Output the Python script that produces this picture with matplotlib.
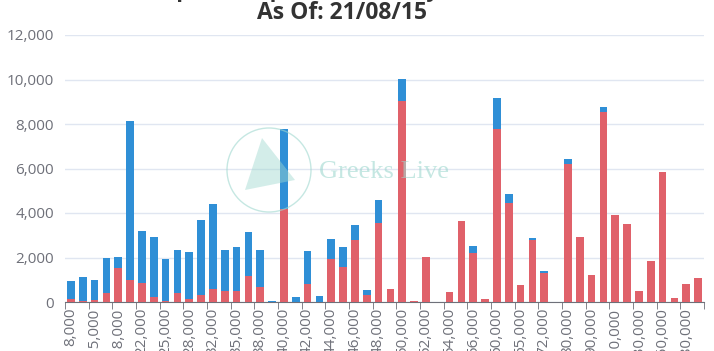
import numpy as np
import matplotlib
matplotlib.use("Agg")
import matplotlib.pyplot as plt
from matplotlib.patches import Ellipse, Polygon

# Strike prices (categories)
strikes = [8000, 10000, 15000, 16000, 18000, 20000, 22000, 24000, 25000, 26000,
           28000, 30000, 32000, 34000, 35000, 36000, 38000, 39000, 40000, 41000,
           42000, 43000, 44000, 45000, 46000, 47000, 48000, 49000, 50000, 51000,
           52000, 53000, 54000, 55000, 56000, 58000, 60000, 64000, 65000, 70000,
           72000, 75000, 80000, 85000, 90000, 100000, 110000, 120000, 130000, 140000,
           150000, 160000, 180000, 200000]

# Calls (red, bottom) and puts (blue, stacked on top)
calls = [150, 30, 90, 390, 1510, 990, 840, 210, 30, 390,
         120, 315, 600, 510, 495, 1170, 690, 0, 4195, 0,
         795, 0, 1950, 1590, 2770, 330, 3535, 570, 9050, 60,
         2005, 0, 435, 3625, 2185, 135, 7760, 4465, 765, 2770,
         1290, 15, 6185, 2935, 1200, 8525, 3895, 3490, 495, 1860,
         5860, 180, 810, 1080]
puts = [800, 1110, 885, 1590, 510, 7160, 2350, 2725, 1890, 1950,
        2110, 3370, 3820, 1830, 1990, 1980, 1650, 60, 3580, 210,
        1500, 285, 880, 880, 700, 210, 1030, 0, 970, 0,
        0, 0, 0, 0, 330, 0, 1410, 390, 0, 120,
        105, 0, 255, 0, 0, 255, 0, 0, 0, 0,
        0, 0, 0, 0]

title_top = "BTC Options Open Interest By Strike Price"
title_date = "As Of: 21/08/15"

red = "#E0616A"
blue = "#2F8FD6"
grey = "#6E7079"

fig = plt.figure(figsize=(7.14, 3.51), dpi=100)
ax = fig.add_axes([65 / 714, 1 - 302 / 351, 639 / 714, 267 / 351])

x = np.arange(len(strikes))
ax.bar(x, calls, width=0.65, color=red, zorder=3)
ax.bar(x, puts, width=0.65, bottom=calls, color=blue, zorder=3)

ax.set_xlim(-0.5, len(strikes) - 0.5)
ax.set_ylim(0, 12000)
ax.set_yticks(range(0, 12001, 2000))
ax.set_yticklabels([f"{v:,}" for v in range(0, 12001, 2000)],
                   fontsize=11, color=grey, family="Open Sans")
ax.tick_params(axis="y", length=0, pad=8)
ax.yaxis.grid(True, color="#E0E6F1", linewidth=1, zorder=0)

ax.set_xticks(x[::2])
ax.set_xticklabels([f"{s:,}" for s in strikes[::2]], rotation=90,
                   fontsize=11, color=grey, family="Open Sans")
ax.set_xticks(np.arange(-0.5, len(strikes), 2), minor=True)
ax.tick_params(axis="x", which="major", length=0, pad=4)
ax.tick_params(axis="x", which="minor", length=5, color=grey)

for s in ["top", "right", "left"]:
    ax.spines[s].set_visible(False)
ax.spines["bottom"].set_color(grey)

# titles (top line is cut off in the original)
fig.text(342 / 714, 1 + 3 / 351, title_top, ha="center", va="baseline",
         fontsize=16, fontweight="bold", color="#333333", family="Open Sans")
fig.text(342 / 714, 1 - 19 / 351, title_date, ha="center", va="baseline",
         fontsize=16.5, fontweight="bold", color="#333333", family="Open Sans")

# watermark
wm = "#9FD8CF"
fig.patches.append(Ellipse((269 / 714, 1 - 170 / 351), 84 / 714, 84 / 351,
                           transform=fig.transFigure, fill=False, edgecolor=wm,
                           linewidth=1, alpha=0.6, zorder=5))
fig.patches.append(Polygon([(245 / 714, 1 - 190 / 351), (262 / 714, 1 - 138 / 351),
                            (295 / 714, 1 - 180 / 351)], closed=True,
                           transform=fig.transFigure, facecolor=wm, alpha=0.45,
                           edgecolor="none", zorder=5))
fig.text(384 / 714, 1 - 172 / 351, "Greeks Live", ha="center", va="center",
         fontsize=19, color=wm, alpha=0.6, family="Liberation Serif", zorder=6)

fig.savefig("out.png", dpi=100)
